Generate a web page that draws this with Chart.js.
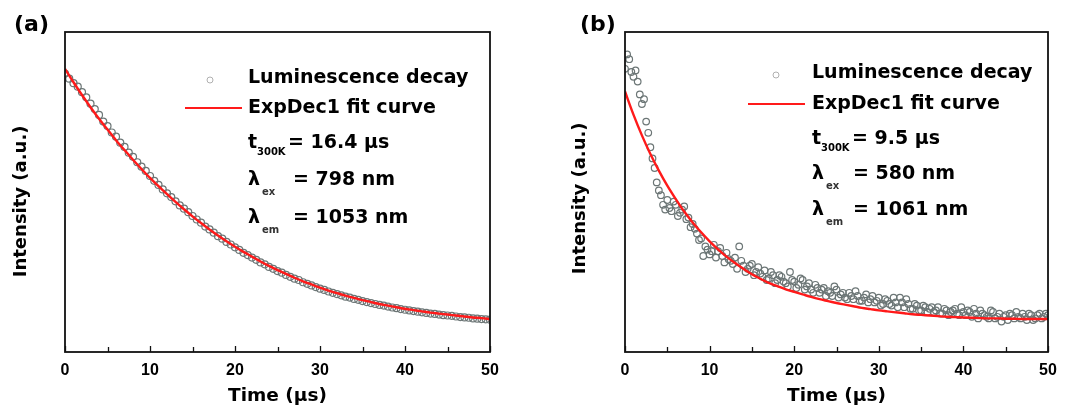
<!DOCTYPE html>
<html><head><meta charset="utf-8">
<script src="https://cdn.jsdelivr.net/npm/chart.js@4.4.1/dist/chart.umd.min.js"></script>
<style>
html,body{margin:0;padding:0;background:#fff;}
#wrap{position:relative;width:1067px;height:405px;overflow:hidden;background:#fff;}
canvas{position:absolute;top:0;}
#ca{left:0;} #cb{left:533px;}
</style></head><body>
<div id="wrap"><canvas id="ca" width="533" height="405"></canvas><canvas id="cb" width="534" height="405"></canvas></div>
<script>
// ---------- data ----------
const timeRange = [0, 50];          // µs
const tickStep = 5;                  // minor ticks every 5, labels every 10
const fitStep = 1;                   // fit curves sampled every 1 µs
const dataStep = 0.5;                // measured points every 0.5 µs
const dataOffsetB2 = 0.25;           // second interleaved set of points in (b)

// panel (a): fit curve, intensity (a.u.) at t = 0,1,...,50
const fitA = [88.5,84.3,80.3,76.5,72.9,69.5,66.2,63.1,60.1,57.2,54.4,51.8,49.3,46.9,44.6,42.4,40.3,38.3,36.4,34.6,
  32.9,31.3,29.8,28.3,26.9,25.6,24.4,23.2,22.1,21.1,20.1,19.2,18.4,17.6,16.9,16.2,15.6,15.0,14.5,14.0,
  13.5,13.1,12.7,12.3,12.0,11.7,11.4,11.1,10.8,10.6,10.3];
// panel (a): luminescence decay points at t = 0,0.5,...,50
const dataA = [87.0,85.4,84.0,82.9,81.2,79.6,77.6,75.9,74.1,72.0,70.6,68.6,67.3,65.4,64.1,62.3,61.0,59.3,57.9,56.6,
  55.0,53.5,52.2,50.8,49.6,48.4,47.1,45.8,44.8,43.7,42.5,41.4,40.4,39.2,38.3,37.3,36.2,35.4,34.4,33.6,
  32.7,31.9,31.0,30.3,29.5,28.8,28.0,27.4,26.6,26.0,25.3,24.8,24.1,23.5,22.9,22.5,21.8,21.3,20.8,20.3,
  19.8,19.4,18.9,18.5,18.1,17.7,17.3,17.0,16.6,16.3,15.9,15.6,15.3,15.0,14.7,14.5,14.2,13.9,13.7,13.4,
  13.2,13.0,12.8,12.6,12.4,12.2,12.0,11.9,11.7,11.5,11.4,11.3,11.1,10.9,10.8,10.7,10.5,10.4,10.3,10.2,10.1];

// panel (b): fit curve at t = 0,1,...,50
const fitB = [81.4,74.2,67.7,61.9,56.7,52.0,47.8,43.9,40.5,37.4,34.6,32.1,29.8,27.8,26.0,24.3,22.9,21.6,20.6,19.6,
  18.8,18.0,17.2,16.5,15.9,15.3,14.8,14.3,13.8,13.4,13.0,12.7,12.4,12.1,11.8,11.6,11.4,11.2,11.0,10.9,
  10.8,10.7,10.6,10.5,10.5,10.4,10.4,10.3,10.3,10.3,10.3];
// panel (b): luminescence decay points at t = 0,0.5,...,50
const dataB = [88.5,91.5,86.0,84.5,77.5,72.0,64.0,57.5,50.5,46.0,47.5,44.0,46.0,43.5,45.5,42.0,40.0,37.0,35.5,33.0,
  30.5,33.5,31.5,30.0,31.0,28.5,29.5,33.0,27.0,26.0,27.5,25.0,24.5,25.5,23.0,24.0,22.5,23.5,21.5,25.0,
  22.0,21.0,22.5,20.5,19.5,21.0,18.5,20.0,19.0,17.5,19.5,18.0,17.0,18.5,16.5,17.5,16.0,18.0,16.5,15.5,
  17.0,15.0,16.0,14.5,15.5,17.0,14.0,15.0,13.5,14.5,13.0,14.0,13.5,12.5,14.0,12.0,13.0,12.5,13.5,11.5,
  12.5,13.0,11.0,12.0,13.0,11.5,10.5,12.5,11.0,9.5,11.5,12.0,10.5,11.0,12.0,10.0,11.5,10.5,12.0,11.0,11.5];
// panel (b): interleaved points at t = 0.25,0.75,...,49.75
const dataB2 = [93.0,87.5,88.0,80.5,79.0,68.5,60.5,53.0,49.0,44.5,45.0,47.0,42.5,44.5,41.5,39.0,38.5,35.0,30.0,32.0,
  31.5,29.5,32.5,28.0,29.0,27.5,26.0,28.5,25.0,27.0,24.0,26.5,23.5,22.5,25.0,21.5,24.0,22.0,20.5,22.5,
  20.0,23.0,19.5,21.5,18.5,20.0,19.5,17.5,18.5,20.5,17.0,18.5,16.5,17.5,19.0,16.0,17.0,15.5,17.5,16.0,
  14.5,16.5,15.0,17.0,14.0,15.5,16.5,13.5,15.0,13.0,14.5,12.5,14.0,13.0,12.0,13.5,11.5,13.0,12.0,14.0,
  11.5,12.5,13.5,10.5,12.0,11.0,13.0,10.5,12.0,11.0,10.0,11.5,12.5,10.5,11.0,12.0,10.0,11.5,10.5,12.0];

// texts
const panelLetters = ['(a)', '(b)'];
const seriesNames = ['Luminescence decay', 'ExpDec1 fit curve'];
const lifetimes = ['= 16.4 \u00b5s', '= 9.5 \u00b5s'];
const excitation = ['= 798 nm', '= 580 nm'];
const emission = ['= 1053 nm', '= 1061 nm'];
const xTitle = 'Time (\u00b5s)';
const yTitle = 'Intensity (a.u.)';

// ---------- helpers ----------
const toXY = (vals, step, off = 0) => vals.map((v, i) => ({x: off + i * step, y: v}));

const framePlugin = {
  id: 'frame',
  afterDatasetsDraw(chart) {
    const {ctx, chartArea: a, scales: {x}} = chart;
    ctx.save();
    ctx.strokeStyle = '#111';
    ctx.lineWidth = 1.3;
    x.ticks.forEach(t => {
      const px = Math.round(x.getPixelForValue(t.value)) + 0.5;
      ctx.beginPath();
      ctx.moveTo(px, a.bottom);
      ctx.lineTo(px, a.bottom - (t.value % 10 === 0 ? 6 : 5));
      ctx.stroke();
    });
    ctx.lineWidth = 1.8;
    ctx.strokeRect(a.left, a.top, a.right - a.left, a.bottom - a.top);
    ctx.restore();
  }
};

const notesPlugin = {
  id: 'notes',
  afterDraw(chart, args, o) {
    const ctx = chart.ctx;
    const big = 'bold 19px "DejaVu Sans"';
    const sub = 'bold 10px "DejaVu Sans"';
    ctx.save();
    ctx.textBaseline = 'middle';
    ctx.textAlign = 'left';
    ctx.fillStyle = '#000';
    // panel letter
    ctx.font = 'bold 22px "DejaVu Sans"';
    ctx.fillText(o.letter, o.letterX, 25);
    // legend marker
    ctx.strokeStyle = '#b0b0b0';
    ctx.lineWidth = 1;
    ctx.beginPath(); ctx.arc(o.markX, o.row[0] + 2, 3, 0, Math.PI * 2); ctx.stroke();
    // legend line
    ctx.strokeStyle = '#ff1a1a';
    ctx.lineWidth = 2.2;
    ctx.beginPath(); ctx.moveTo(o.lineX0, o.row[1]); ctx.lineTo(o.lineX1, o.row[1]); ctx.stroke();
    ctx.font = big;
    ctx.fillText(seriesNames[0], o.textX, o.row[0]);
    ctx.fillText(seriesNames[1], o.textX, o.row[1]);
    // lifetime
    ctx.fillText('t', o.textX, o.row[2]);
    ctx.font = sub; ctx.fillText('300K', o.textX + 9, o.row[2] + 9);
    ctx.font = big; ctx.fillText(o.tau, o.textX + 40, o.row[2]);
    // excitation / emission
    ctx.fillText('\u03bb', o.textX, o.row[3]);
    ctx.font = sub; ctx.fillStyle = '#333'; ctx.fillText('ex', o.textX + 14, o.row[3] + 12);
    ctx.fillStyle = '#000'; ctx.font = big; ctx.fillText(o.ex, o.textX + o.eqX, o.row[3]);
    ctx.fillText('\u03bb', o.textX, o.row[4]);
    ctx.font = sub; ctx.fillStyle = '#333'; ctx.fillText('em', o.textX + 14, o.row[4] + 12);
    ctx.fillStyle = '#000'; ctx.font = big; ctx.fillText(o.em, o.textX + o.eqX, o.row[4]);
    ctx.restore();
  }
};

function makeChart(id, fit, pts, p) {
  return new Chart(document.getElementById(id), {
    type: 'scatter',
    data: {
      datasets: [
        {label: seriesNames[1], type: 'line', data: toXY(fit, fitStep), showLine: true, borderColor: '#ff1a1a',
         borderWidth: 2.4, pointRadius: 0, cubicInterpolationMode: 'monotone', fill: false},
        {label: seriesNames[0], data: pts, showLine: false, pointRadius: p.r, pointBorderWidth: 1.2,
         pointBorderColor: '#6c7676', pointBackgroundColor: 'rgba(255,255,255,0)', pointStyle: 'circle'}
      ]
    },
    options: {
      responsive: false, animation: false, devicePixelRatio: 1, events: [],
      layout: {padding: {left: 0, right: p.padRight, top: 32, bottom: 0}},
      plugins: {legend: {display: false}, tooltip: {enabled: false}, notes: p.notes},
      scales: {
        x: {type: 'linear', min: timeRange[0], max: timeRange[1],
            ticks: {stepSize: tickStep, autoSkip: false, maxRotation: 0, padding: 9, color: '#000',
                    font: {family: 'Liberation Sans', weight: 'bold', size: 16},
                    callback: v => (v % 10 === 0 ? String(v) : '')},
            grid: {display: false, drawTicks: false}, border: {display: false},
            title: {display: true, text: xTitle, color: '#000', padding: 0,
                    font: {family: 'DejaVu Sans', weight: 'bold', size: 18.5, lineHeight: 1}},
            afterFit(s) { s.height = 53; }},
        y: {min: 0, max: 100,
            ticks: {display: false}, grid: {display: false, drawTicks: false}, border: {display: false},
            title: {display: true, text: p.yText, color: '#000', padding: {top: p.yPad, bottom: 0},
                    font: {family: 'DejaVu Sans', weight: 'bold', size: 18, lineHeight: 1}},
            afterFit(s) { s.width = p.yWidth; }}
      }
    },
    plugins: [framePlugin, notesPlugin]
  });
}

makeChart('ca', fitA, toXY(dataA, dataStep), {
  padRight: 43, yWidth: 65, yPad: 12, yText: yTitle + '   ', r: 3.5,
  notes: {letter: panelLetters[0], letterX: 14, markX: 210, lineX0: 185, lineX1: 242, textX: 248,
          row: [78, 108, 143, 180, 218], eqX: 45, tau: lifetimes[0], ex: excitation[0], em: emission[0]}
});
makeChart('cb', fitB, toXY(dataB, dataStep).concat(toXY(dataB2, dataStep, dataOffsetB2)), {
  padRight: 19, yWidth: 92, yPad: 38, yText: yTitle + '  ', r: 3.3,
  notes: {letter: panelLetters[1], letterX: 47, markX: 243, lineX0: 215, lineX1: 272, textX: 279,
          row: [73, 104, 139, 174, 210], eqX: 41, tau: lifetimes[1], ex: excitation[1], em: emission[1]}
});
</script>
</body></html>
